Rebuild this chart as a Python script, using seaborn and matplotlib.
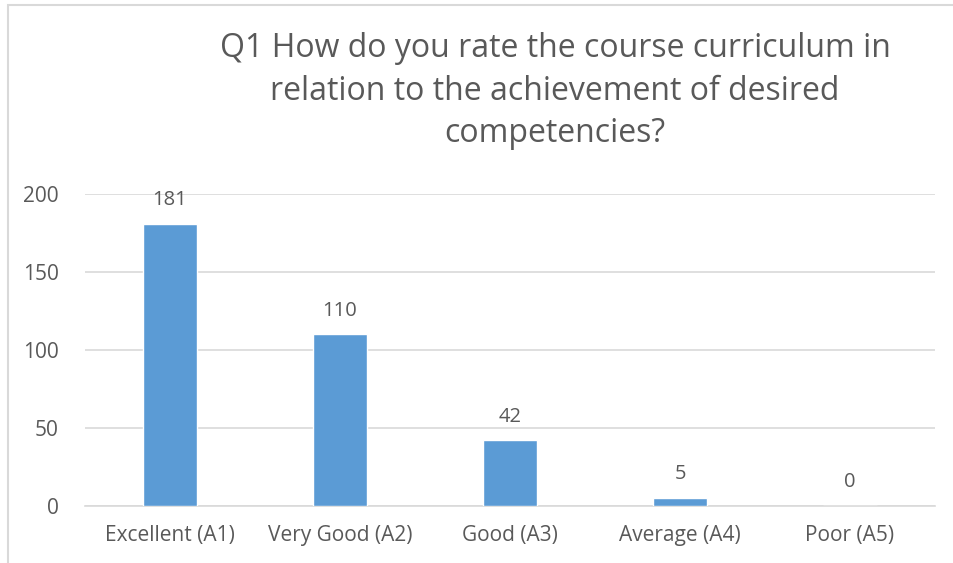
import pandas as pd
import matplotlib.pyplot as plt
import seaborn as sns
from matplotlib.patches import Rectangle

categories = ['Excellent (A1)', 'Very Good (A2)', 'Good (A3)', 'Average (A4)', 'Poor (A5)']
counts = [181, 110, 42, 5, 0]
title = 'Q1 How do you rate the course curriculum in\nrelation to the achievement of desired\ncompetencies?'

df = pd.DataFrame({'Answer': categories, 'Count': counts})

sns.set_theme(style='white')
plt.rcParams['font.family'] = ['Open Sans', 'DejaVu Sans']
grey = '#595959'

fig = plt.figure(figsize=(9.54, 5.63), dpi=100)
ax = fig.add_axes([85 / 954, 1 - 506 / 563, 850 / 954, 312 / 563])

sns.barplot(data=df, x='Answer', y='Count', color='#5b9bd5', width=0.32,
            saturation=1, ax=ax, zorder=3)
ax.set_ylim(0, 200)
ax.set_xlim(-0.5, 4.5)
ax.set_yticks([0, 50, 100, 150, 200])
ax.yaxis.grid(True, color='#d9d9d9', linewidth=1.2, zorder=0)
for s in ['top', 'right', 'left']:
    ax.spines[s].set_visible(False)
ax.spines['bottom'].set_color('#d9d9d9')
ax.spines['bottom'].set_linewidth(1.2)
ax.set_xlabel('')
ax.set_ylabel('')
ax.tick_params(axis='both', length=0, labelsize=15, colors=grey)
ax.tick_params(axis='x', pad=14)
ax.tick_params(axis='y', pad=19)

for i, v in enumerate(counts):
    ax.annotate(str(v), (i, v), xytext=(0, 10), textcoords='offset points',
                ha='center', va='bottom', fontsize=14.5, color=grey)

fig.text(555 / 954, 1 - 91 / 563, title, ha='center', va='center',
         fontsize=23, color=grey, linespacing=1.37)

# chart frame, partly outside the picture
fig.patches.append(Rectangle((8 / 954, -0.05), 1.0, 1 - 5 / 563 + 0.05,
                             transform=fig.transFigure, fill=False,
                             edgecolor='#d9d9d9', linewidth=1.5))

fig.savefig('out.png', dpi=100)
